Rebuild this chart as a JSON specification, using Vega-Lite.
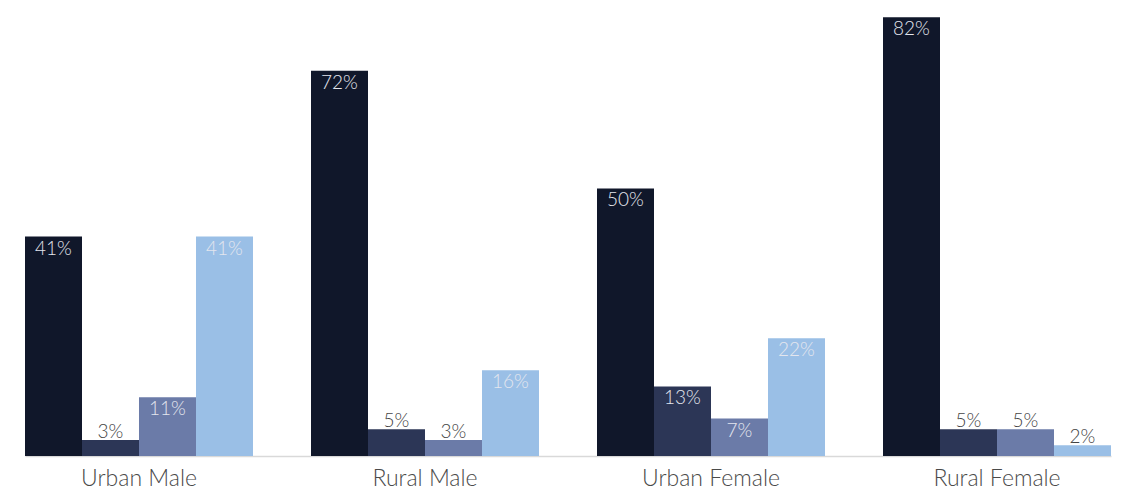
{
  "$schema": "https://vega.github.io/schema/vega-lite/v6.json",
  "autosize": "none",
  "width": 1116,
  "height": 456,
  "padding": {"left": 6, "top": 0, "right": 0, "bottom": 34},
  "background": "white",
  "config": {"view": {"stroke": null}, "font": "Lato"},
  "data": {
    "values": [
      {"group": "Urban Male", "series": "S1", "value": 0.41},
      {"group": "Urban Male", "series": "S2", "value": 0.03},
      {"group": "Urban Male", "series": "S3", "value": 0.11},
      {"group": "Urban Male", "series": "S4", "value": 0.41},
      {"group": "Rural Male", "series": "S1", "value": 0.72},
      {"group": "Rural Male", "series": "S2", "value": 0.05},
      {"group": "Rural Male", "series": "S3", "value": 0.03},
      {"group": "Rural Male", "series": "S4", "value": 0.16},
      {"group": "Urban Female", "series": "S1", "value": 0.50},
      {"group": "Urban Female", "series": "S2", "value": 0.13},
      {"group": "Urban Female", "series": "S3", "value": 0.07},
      {"group": "Urban Female", "series": "S4", "value": 0.22},
      {"group": "Rural Female", "series": "S1", "value": 0.82},
      {"group": "Rural Female", "series": "S2", "value": 0.05},
      {"group": "Rural Female", "series": "S3", "value": 0.05},
      {"group": "Rural Female", "series": "S4", "value": 0.02}
    ]
  },
  "encoding": {
    "x": {
      "field": "group", "type": "nominal", "sort": null,
      "scale": {"range": [19, 1105], "paddingInner": 0.2028, "paddingOuter": 0},
      "axis": {"title": null, "domain": false, "ticks": false, "labelAngle": 0, "labelFontSize": 23, "labelFontWeight": 300, "labelColor": "#4a4a4a", "labelPadding": 11, "labelFont": "Lato"}
    },
    "xOffset": {"field": "series", "type": "nominal", "sort": null, "scale": {"paddingInner": 0, "paddingOuter": 0}},
    "y": {
      "field": "value", "type": "quantitative",
      "scale": {"domain": [0, 0.852], "nice": false},
      "axis": {"title": null, "values": [0], "labels": false, "ticks": false, "domain": false, "grid": true, "gridColor": "#d9d9d9", "gridWidth": 1.5}
    }
  },
  "layer": [
    {
      "mark": {"type": "bar"},
      "encoding": {
        "color": {
          "field": "series", "type": "nominal", "sort": null, "legend": null,
          "scale": {"domain": ["S1", "S2", "S3", "S4"], "range": ["#10172a", "#2c3656", "#6b7ba8", "#9abfe6"]}
        }
      }
    },
    {
      "transform": [{"filter": "datum.value > 0.06"}],
      "mark": {"type": "text", "baseline": "top", "dy": 3, "fontSize": 19, "fontWeight": 300, "color": "#e4e6ee", "font": "Lato"},
      "encoding": {"text": {"field": "value", "format": ".0%"}}
    },
    {
      "transform": [{"filter": "datum.value <= 0.06"}],
      "mark": {"type": "text", "baseline": "bottom", "dy": 2, "fontSize": 19, "fontWeight": 300, "color": "#444444", "font": "Lato"},
      "encoding": {"text": {"field": "value", "format": ".0%"}}
    }
  ]
}
